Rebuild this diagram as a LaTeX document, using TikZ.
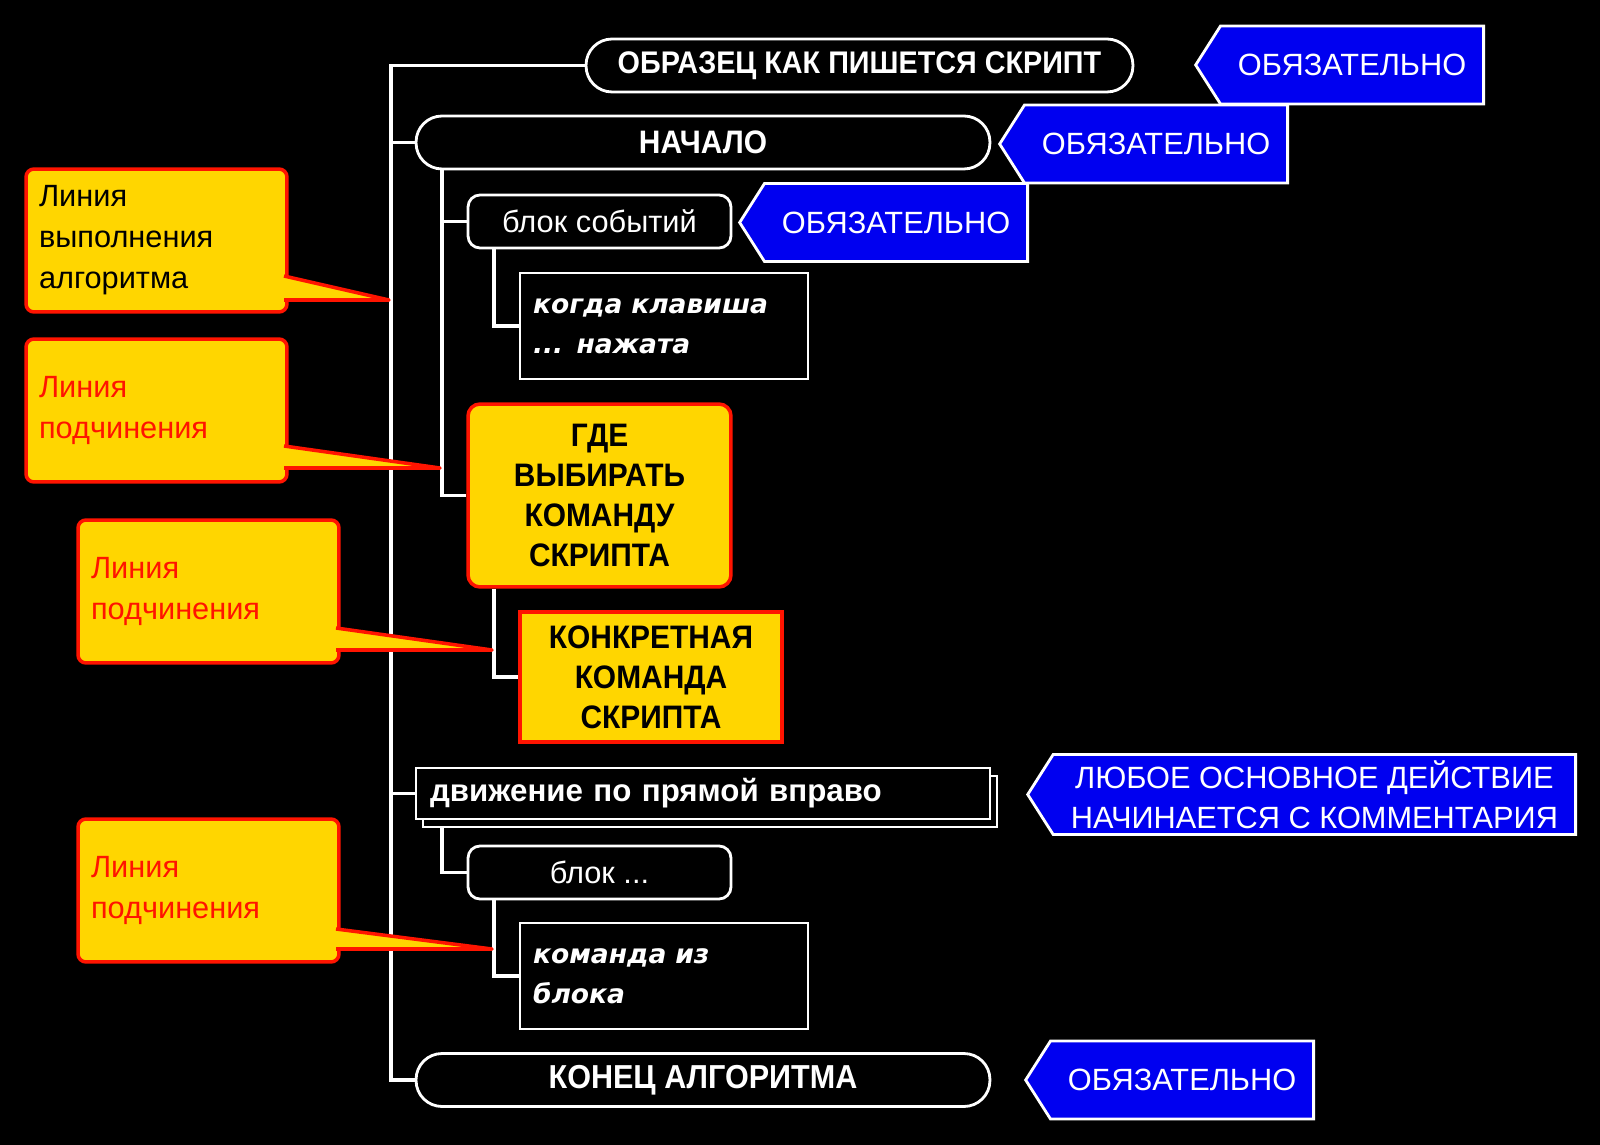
\documentclass[tikz,border=0pt]{standalone}
\usepackage{fontspec}
\setmainfont{Liberation Sans}
\newfontfamily\condfont[FakeStretch=0.92]{Liberation Sans}
\newfontfamily\slantfont{DejaVu Sans}
\usepackage{tikz}
\usetikzlibrary{shapes.symbols,shadows,backgrounds}

\definecolor{gold}{RGB}{255,214,0}
\definecolor{redline}{RGB}{255,20,0}
\definecolor{signblue}{RGB}{0,0,240}

\begin{document}
\begin{tikzpicture}[x = 0.02cm, y = -0.02cm, line width = 1.6pt,
								wire/.style = {draw = white, line width = 1.8pt},
								pill/.style = {rectangle, draw = white, fill = black,
								text = white, rounded corners = 0.52cm,
								minimum width = 11.48cm, minimum height = 1.06cm,
								font = \condfont\bfseries\fontsize{18.5}{22.8}\selectfont},
								blk/.style = {rectangle, draw = white, fill = black,
								text = white, rounded corners = 0.24cm,
								minimum width = 5.26cm, minimum height = 1.06cm,
								font = \fontsize{17.5}{21}\selectfont},
								cmd/.style = {rectangle, draw = white, fill = black,
								text = white, minimum width = 5.76cm, minimum height = 2.12cm,
								text width = 5.24cm, inner xsep = 0.26cm, align = left,
								font = \slantfont\bfseries\itshape\fontsize{15.1}{22.7}\selectfont},
								pick/.style = {rectangle, draw = redline, fill = gold,
								line width = 2pt, rounded corners = 0.24cm,
								minimum width = 5.26cm, minimum height = 3.66cm, align = center,
								font = \condfont\bfseries\fontsize{18.5}{22.8}\selectfont},
								must/.style = {signal, signal to = west, signal pointer angle = 115,
								draw = white, fill = signblue, text = white,
								minimum height = 1.56cm, minimum width = 5.76cm,
								align = center, anchor = east,
								font = \fontsize{17.5}{22.8}\selectfont},
								note/.style = {rectangle, draw = redline, fill = gold,
								line width = 2pt, rounded corners = 0.16cm,
								minimum width = 5.22cm, minimum height = 2.86cm,
								text width = 4.7cm, inner xsep = 0.26cm, align = left,
								font = \fontsize{17.5}{23.3}\selectfont},
								tail/.style = {draw = redline, line width = 2pt, line join = round},
								]

				\useasboundingbox (0,0) rectangle (1600,1145);

				% main blocks
				\node [pill, minimum width = 10.94cm,
				font = \condfont\bfseries\fontsize{17.8}{22.8}\selectfont] (p_1) at (859.5,65.5)
				{ОБРАЗЕЦ КАК ПИШЕТСЯ СКРИПТ};
				\node [pill] (p_2) at (703,142.5) {НАЧАЛО};
				\node [blk] (b_1) at (599.5,221.5) {блок событий};
				\node [cmd] (k_1) at (664,326) {когда клавиша\\... нажата};
				\node [pick] (y_1) at (599.5,495.5)
				{ГДЕ\\ВЫБИРАТЬ\\КОМАНДУ\\СКРИПТА};
				\node [pick, sharp corners, minimum width = 5.24cm,
				minimum height = 2.6cm] (y_2) at (651,677)
				{КОНКРЕТНАЯ\\КОМАНДА\\СКРИПТА};
				\node [rectangle, draw = white, fill = black, text = white,
				copy shadow = {shadow xshift = 0.14cm, shadow yshift = -0.16cm},
				minimum width = 11.48cm, minimum height = 1.02cm,
				text width = 10.92cm, inner xsep = 0.28cm, align = left,
				font = \bfseries\fontsize{17.8}{22}\selectfont] (d_1) at (703,793.5)
				{движение по прямой вправо};
				\node [blk] (b_2) at (599.5,872.5) {блок ...};
				\node [cmd] (k_2) at (664,976) {команда из\\блока};
				\node [pill, font = \condfont\bfseries\fontsize{18.9}{22.8}\selectfont]
				(p_3) at (703,1080) {КОНЕЦ АЛГОРИТМА};

				% signs
				\node [must] (m_1) at (1485,65) {ОБЯЗАТЕЛЬНО};
				\node [must] (m_2) at (1289,144) {ОБЯЗАТЕЛЬНО};
				\node [must] (m_3) at (1029,222.5) {ОБЯЗАТЕЛЬНО};
				\node [must, minimum width = 10.96cm] (m_4) at (1577,794.5)
				{ЛЮБОЕ ОСНОВНОЕ ДЕЙСТВИЕ\\НАЧИНАЕТСЯ С КОММЕНТАРИЯ};
				\node [must] (m_5) at (1315,1080) {ОБЯЗАТЕЛЬНО};

				% callouts
				\node [note] (c_1) at (156.5,240.5) {Линия\\выполнения\\алгоритма};
				\node [note, text = redline] (c_2) at (156.5,410.5) {Линия\\подчинения};
				\node [note, text = redline] (c_3) at (208.5,591.5) {Линия\\подчинения};
				\node [note, text = redline] (c_4) at (208.5,890.5) {Линия\\подчинения};

				\foreach \c/\e/\top/\tx/\ty in {1/287/276/389/300, 2/287/446/440/468,
				3/339/628/492/650, 4/339/929/492/949} {
					\coordinate (t_\c) at (\tx,\ty);
					\fill [gold] (\e-6,\top) -- (\e,\top) -- (t_\c) -- (\e,\ty)
					-- (\e-6,\ty) -- cycle;
					\draw [tail] (\e-3,\top) -- (t_\c) -- (\e-3,\ty);
				}

				% lines
				\begin{scope}[on background layer]
					\fill [black] (0,0) rectangle (1600,1145);
					\coordinate (s_1) at (391,0);
					\coordinate (s_2) at (442,0);
					\coordinate (s_3) at (494,0);
					\draw [wire] (p_1.west) -- (p_1.west -| s_1) |- (p_3.west);
					\draw [wire] (s_1 |- p_2.west) -- (p_2.west);
					\draw [wire] (s_1 |- d_1.west) -- (d_1.west);
					\draw [wire] (p_2.south -| s_2) |- (y_1.west);
					\draw [wire] (s_2 |- b_1.west) -- (b_1.west);
					\draw [wire] (b_1.south -| s_3) |- (k_1.west);
					\draw [wire] (y_1.south -| s_3) |- (y_2.west);
					\draw [wire] (d_1.south -| s_2) |- (b_2.west);
					\draw [wire] (b_2.south -| s_3) |- (k_2.west);
				\end{scope}
			\end{tikzpicture}
\end{document}
